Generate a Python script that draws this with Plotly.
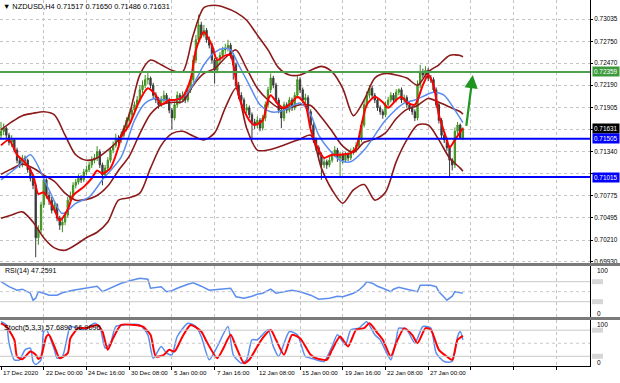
import plotly.graph_objects as go

# ---------------- data ----------------
bar_open = [0.7155,0.7160,0.7164,0.7155,0.7146,0.7149,0.7136,0.7123,0.7117,0.7126,
0.7123,0.7111,0.7100,0.7091,0.7024,0.7034,0.7066,0.7098,0.7078,0.7072,
0.7059,0.7066,0.7049,0.7040,0.7044,0.7053,0.7072,0.7078,0.7091,0.7095,
0.7100,0.7098,0.7108,0.7111,0.7117,0.7123,0.7126,0.7134,0.7117,0.7104,
0.7113,0.7123,0.7136,0.7142,0.7151,0.7149,0.7155,0.7164,0.7174,0.7181,
0.7187,0.7194,0.7200,0.7213,0.7219,0.7226,0.7228,0.7219,0.7206,0.7200,
0.7194,0.7200,0.7206,0.7200,0.7187,0.7177,0.7194,0.7206,0.7200,0.7206,
0.7200,0.7213,0.7226,0.7251,0.7277,0.7296,0.7283,0.7289,0.7277,0.7270,
0.7251,0.7238,0.7251,0.7257,0.7264,0.7266,0.7270,0.7257,0.7245,0.7219,
0.7206,0.7200,0.7187,0.7190,0.7181,0.7172,0.7168,0.7174,0.7164,0.7177,
0.7194,0.7213,0.7228,0.7219,0.7200,0.7187,0.7177,0.7194,0.7187,0.7200,
0.7190,0.7206,0.7226,0.7213,0.7200,0.7203,0.7185,0.7168,0.7149,0.7139,
0.7130,0.7117,0.7121,0.7117,0.7123,0.7130,0.7136,0.7126,0.7130,0.7123,
0.7130,0.7126,0.7134,0.7136,0.7142,0.7149,0.7168,0.7194,0.7206,0.7215,
0.7206,0.7200,0.7190,0.7185,0.7181,0.7194,0.7200,0.7206,0.7200,0.7210,
0.7213,0.7200,0.7203,0.7194,0.7190,0.7185,0.7177,0.7219,0.7236,0.7232,
0.7238,0.7228,0.7226,0.7213,0.7194,0.7174,0.7155,0.7149,0.7139,0.7123,
0.7117,0.7160,0.7168,0.71517]
bar_high = [0.7172,0.7170,0.7166,0.7158,0.7155,0.7151,0.7139,0.7127,0.7130,0.7129,
0.7125,0.7114,0.7103,0.7094,0.7040,0.7070,0.7104,0.7100,0.7083,0.7076,
0.7071,0.7068,0.7052,0.7048,0.7057,0.7076,0.7083,0.7095,0.7099,0.7105,
0.7104,0.7112,0.7116,0.7121,0.7128,0.7131,0.7141,0.7137,0.7120,0.7117,
0.7127,0.7140,0.7147,0.7157,0.7155,0.7160,0.7168,0.7178,0.7185,0.7191,
0.7198,0.7205,0.7219,0.7225,0.7232,0.7236,0.7230,0.7222,0.7210,0.7204,
0.7205,0.7212,0.7209,0.7203,0.7190,0.7198,0.7211,0.7209,0.7211,0.7209,
0.7217,0.7230,0.7257,0.7283,0.7309,0.7300,0.7296,0.7292,0.7281,0.7273,
0.7254,0.7255,0.7261,0.7268,0.7272,0.7277,0.7273,0.7260,0.7248,0.7223,
0.7210,0.7203,0.7195,0.7193,0.7184,0.7176,0.7179,0.7177,0.7181,0.7198,
0.7217,0.7234,0.7231,0.7222,0.7203,0.7190,0.7198,0.7197,0.7204,0.7203,
0.7210,0.7232,0.7229,0.7216,0.7208,0.7206,0.7188,0.7171,0.7152,0.7142,
0.7133,0.7126,0.7124,0.7128,0.7134,0.7141,0.7139,0.7134,0.7133,0.7134,
0.7133,0.7138,0.7140,0.7146,0.7153,0.7173,0.7199,0.7211,0.7219,0.7218,
0.7209,0.7203,0.7193,0.7188,0.7198,0.7204,0.7210,0.7209,0.7214,0.7215,
0.7216,0.7207,0.7206,0.7197,0.7193,0.7188,0.7225,0.7245,0.7240,0.7243,
0.7241,0.7232,0.7229,0.7216,0.7197,0.7177,0.7158,0.7152,0.7142,0.7126,
0.7165,0.7172,0.7170,0.71650]
bar_low = [0.7151,0.7155,0.7150,0.7142,0.7140,0.7133,0.7119,0.7113,0.7114,0.7119,
0.7107,0.7096,0.7086,0.6999,0.7015,0.7030,0.7062,0.7074,0.7066,0.7055,
0.7056,0.7045,0.7034,0.7031,0.7040,0.7050,0.7068,0.7075,0.7087,0.7092,
0.7094,0.7095,0.7104,0.7108,0.7113,0.7119,0.7122,0.7113,0.7091,0.7100,
0.7110,0.7120,0.7132,0.7139,0.7140,0.7145,0.7152,0.7160,0.7170,0.7177,
0.7183,0.7190,0.7197,0.7209,0.7215,0.7220,0.7215,0.7202,0.7196,0.7189,
0.7191,0.7197,0.7196,0.7183,0.7162,0.7174,0.7190,0.7195,0.7197,0.7196,
0.7197,0.7209,0.7222,0.7247,0.7273,0.7279,0.7280,0.7273,0.7266,0.7247,
0.7221,0.7234,0.7247,0.7253,0.7259,0.7262,0.7253,0.7226,0.7215,0.7201,
0.7195,0.7183,0.7183,0.7177,0.7149,0.7163,0.7164,0.7160,0.7161,0.7173,
0.7190,0.7209,0.7215,0.7196,0.7183,0.7164,0.7173,0.7183,0.7184,0.7186,
0.7187,0.7202,0.7209,0.7196,0.7195,0.7181,0.7164,0.7145,0.7135,0.7126,
0.7098,0.7113,0.7112,0.7114,0.7120,0.7127,0.7121,0.7103,0.7119,0.7120,
0.7122,0.7123,0.7130,0.7133,0.7139,0.7146,0.7165,0.7190,0.7202,0.7202,
0.7196,0.7186,0.7181,0.7176,0.7178,0.7190,0.7197,0.7196,0.7197,0.7206,
0.7196,0.7197,0.7190,0.7186,0.7181,0.7173,0.7174,0.7215,0.7228,0.7229,
0.7224,0.7222,0.7209,0.7190,0.7170,0.7151,0.7145,0.7135,0.7102,0.7110,
0.7113,0.7156,0.7150,0.71486]
bar_close = [0.7160,0.7164,0.7155,0.7146,0.7149,0.7136,0.7123,0.7117,0.7126,0.7123,
0.7111,0.7100,0.7091,0.7024,0.7034,0.7066,0.7098,0.7078,0.7072,0.7059,
0.7066,0.7049,0.7040,0.7044,0.7053,0.7072,0.7078,0.7091,0.7095,0.7100,
0.7098,0.7108,0.7111,0.7117,0.7123,0.7126,0.7134,0.7117,0.7104,0.7113,
0.7123,0.7136,0.7142,0.7151,0.7149,0.7155,0.7164,0.7174,0.7181,0.7187,
0.7194,0.7200,0.7213,0.7219,0.7226,0.7228,0.7219,0.7206,0.7200,0.7194,
0.7200,0.7206,0.7200,0.7187,0.7177,0.7194,0.7206,0.7200,0.7206,0.7200,
0.7213,0.7226,0.7251,0.7277,0.7296,0.7283,0.7289,0.7277,0.7270,0.7251,
0.7238,0.7251,0.7257,0.7264,0.7266,0.7270,0.7257,0.7245,0.7219,0.7206,
0.7200,0.7187,0.7190,0.7181,0.7172,0.7168,0.7174,0.7164,0.7177,0.7194,
0.7213,0.7228,0.7219,0.7200,0.7187,0.7177,0.7194,0.7187,0.7200,0.7190,
0.7206,0.7226,0.7213,0.7200,0.7203,0.7185,0.7168,0.7149,0.7139,0.7130,
0.7117,0.7121,0.7117,0.7123,0.7130,0.7136,0.7126,0.7130,0.7123,0.7130,
0.7126,0.7134,0.7136,0.7142,0.7149,0.7168,0.7194,0.7206,0.7215,0.7206,
0.7200,0.7190,0.7185,0.7181,0.7194,0.7200,0.7206,0.7200,0.7210,0.7213,
0.7200,0.7203,0.7194,0.7190,0.7185,0.7177,0.7219,0.7236,0.7232,0.7238,
0.7228,0.7226,0.7213,0.7194,0.7174,0.7155,0.7149,0.7139,0.7123,0.7117,
0.7160,0.7168,0.71517,0.71631]

# Bollinger bands (dark red), sampled every 4 bars
band_bars = [0,4,8,12,16,20,24,28,32,36,40,44,48,52,56,60,64,68,72,76,80,84,88,
             92,96,100,104,108,112,116,120,124,128,132,136,140,144,148,152,156,160,164,168,172,173]
bb_upper = [0.7162,0.7172,0.7180,0.7183,0.7185,0.7181,0.7155,0.7130,0.7123,0.7126,0.7136,0.7149,
            0.7181,0.7232,0.7251,0.7245,0.7238,0.7236,0.7283,0.7318,0.7321,0.7318,0.7312,0.7302,
            0.7283,0.7264,0.7241,0.7232,0.7232,0.7238,0.7243,0.7236,0.7215,0.7180,0.7200,0.7228,
            0.7234,0.7232,0.7228,0.7219,0.7236,0.7245,0.7257,0.7257,0.7255]
bb_middle = [0.7105,0.7112,0.7118,0.7113,0.7104,0.7096,0.7081,0.7072,0.7073,0.7078,0.7090,0.7110,
             0.7128,0.7157,0.7182,0.7194,0.7197,0.7198,0.7219,0.7234,0.7240,0.7254,0.7264,0.7240,
             0.7215,0.7200,0.7190,0.7190,0.7194,0.7193,0.7178,0.7160,0.7141,0.7133,0.7146,0.7150,
             0.7158,0.7176,0.7188,0.7193,0.7202,0.7197,0.7191,0.7185,0.7182]
bb_lower = [0.7049,0.7053,0.7057,0.7044,0.7024,0.7011,0.7008,0.7015,0.7024,0.7031,0.7044,0.7072,
            0.7075,0.7081,0.7113,0.7142,0.7157,0.7160,0.7154,0.7149,0.7158,0.7190,0.7215,0.7164,
            0.7136,0.7136,0.7140,0.7145,0.7150,0.7155,0.7113,0.7085,0.7068,0.7085,0.7092,0.7072,
            0.7082,0.7121,0.7149,0.7168,0.7168,0.7149,0.7126,0.7113,0.7109]

# fast moving average (red)
fast_bars = [0,3,6,9,12,14,16,18,20,22,25,27,31,34,36,38,41,44,45,48,52,55,58,60,63,65,68,71,73,76,
             79,81,84,86,88,89,91,93,95,98,100,101,104,106,109,111,114,116,119,121,124,127,131,133,
             135,137,140,143,145,148,150,152,155,158,160,162,164,167,168,170,173]
fast_ma = [0.7142,0.7149,0.7130,0.7120,0.7104,0.7080,0.7082,0.7072,0.7060,0.7046,0.7060,0.7078,
           0.7089,0.7100,0.7110,0.7106,0.7113,0.7140,0.7153,0.7168,0.7200,0.7215,0.7206,0.7194,
           0.7200,0.7200,0.7204,0.7226,0.7264,0.7287,0.7270,0.7251,0.7257,0.7257,0.7226,0.7206,
           0.7187,0.7174,0.7168,0.7174,0.7200,0.7206,0.7194,0.7190,0.7197,0.7204,0.7194,0.7162,
           0.7136,0.7126,0.7130,0.7130,0.7132,0.7139,0.7168,0.7194,0.7204,0.7197,0.7190,0.7200,
           0.7204,0.7197,0.7194,0.7219,0.7232,0.7219,0.7181,0.7149,0.7139,0.7149,0.7164]

# slow moving average (blue)
slow_bars = [0,7,11,18,23,28,33,38,45,50,54,58,61,65,69,73,76,80,84,86,89,93,97,101,104,108,112,
             116,119,123,127,131,136,144,151,155,159,162,166,170,173]
slow_ma = [0.7098,0.7117,0.7130,0.7085,0.7055,0.7068,0.7076,0.7098,0.7127,0.7174,0.7196,0.7202,
           0.7200,0.7200,0.7206,0.7226,0.7245,0.7261,0.7266,0.7264,0.7245,0.7219,0.7194,0.7185,
           0.7185,0.7190,0.7196,0.7181,0.7155,0.7136,0.7123,0.7121,0.7136,0.7174,0.7196,0.7200,
           0.7206,0.7210,0.7206,0.7187,0.7171]

# RSI(14)
rsi_bars = [0,1,3,6,8,11,12,13,14,16,18,21,23,27,31,36,38,41,45,49,52,55,56,60,62,64,66,70,72,75,
            78,82,86,88,91,94,96,98,101,103,107,109,112,116,119,123,126,128,132,134,136,137,139,
            141,143,146,147,149,152,154,156,157,161,163,164,166,167,169,170,172,173]
rsi_vals = [70,67,60,53,55,47,33,37,50,47,43,43,48,53,57,61,50,57,67,73,77,75,57,60,50,52,57,65,
            68,61,53,55,57,40,37,41,45,47,55,47,50,53,50,43,35,37,41,40,47,53,63,70,67,61,57,50,
            55,59,55,52,50,63,63,60,50,39,33,41,50,48,47.2591]

# Stochastic(5,3,3)
stoch_main_bars = [0,2,3,5,7,9,11,12,13,15,16,17,20,21,23,25,26,31,35,37,39,41,43,46,52,55,57,60,
                   62,64,66,70,73,75,78,81,85,87,90,92,94,96,100,102,104,108,111,114,116,118,121,
                   124,126,129,131,134,137,140,142,146,148,149,152,155,158,161,163,166,169,171,172,173]
stoch_main = [99.6,92,50.2,11.9,11.9,34.9,38.7,8,1,11.9,77,80.9,34.9,15.7,19.5,69.3,88.5,80.9,95.8,
              88.5,38.7,50.2,88.5,92,92,69.3,15.7,42.5,27.2,23.4,65.5,95.8,88.5,65.5,11.9,42.5,88.5,
              23.4,4.2,11.9,57.9,57.9,80.9,42.5,19.5,77,69.3,19.5,15.7,11.9,8,42.5,69.3,46.4,80.9,
              84.7,99.6,69.3,57.9,11.9,57.9,84.7,80.9,50.2,88.5,84.7,27.2,8,8,65.5,77,57.689]
stoch_sig_bars = [0,2,5,6,8,11,13,14,15,17,18,20,22,25,26,29,32,36,38,40,42,45,50,53,56,58,61,63,
                  65,68,71,75,77,81,83,86,88,91,93,96,98,101,103,106,109,112,116,118,122,124,127,
                  130,133,136,138,141,143,146,148,151,154,156,159,161,164,167,169,171,173]
stoch_sig = [95.8,88.5,57.9,19.5,13.4,31,23.4,14,19.5,65.5,69.3,42.5,15.7,27.2,61.7,84.7,84.7,92,
             77,34.9,61.7,92,92,88.5,69.3,19.5,23.4,34.9,31,65.5,92,77,54,15.7,34.9,69.3,42.5,4.2,
             11.9,42.5,61.7,80.9,57.9,23.4,69.3,61.7,23.4,15.7,11.9,34.9,65.5,42.5,80.9,84.7,95.8,
             73.2,57.9,19.5,50.2,84.7,69.3,50.2,84.7,80.9,34.9,19.5,11.9,57.9,66.9096]

time_tick_bars = [0,16,32,48,64,80,96,112,128,144,160]
time_tick_labels = ["17 Dec 2020","22 Dec 00:00","24 Dec 16:00","30 Dec 08:00","5 Jan 00:00",
                    "7 Jan 16:00","12 Jan 08:00","15 Jan 00:00","19 Jan 16:00","22 Jan 08:00",
                    "27 Jan 00:00"]
grid_bars = [0,16,32,48,64,80,96,112,128,144,160,176,192,208]
price_ticks = [0.73035,0.72750,0.72470,0.72190,0.71905,0.71620,0.71340,0.71060,
               0.70775,0.70495,0.70210,0.69930]
price_tick_text = ["0.73035","0.72750","0.72470","0.72190","0.71905","","0.71340","",
                   "0.70775","0.70495","0.70210","0.69930"]

resistance_level = 0.72359
support_levels = [0.71505, 0.71015]
last_price = 0.71631
arrow_from = (174.2, 0.7165)
arrow_to = (176.7, 0.7232)

# ---------------- figure ----------------
W, H = 620, 383
XR = 590 / W
def py(p):  # pixel row -> paper y
    return 1 - p / H

FONT = "Liberation Sans, Arial, sans-serif"
GRID = "#c4c4c4"
DARKRED = "#8b1a1a"
BLUE = "#5b8def"

fig = go.Figure()
fig.add_trace(go.Candlestick(
    x=list(range(len(bar_close))), open=bar_open, high=bar_high, low=bar_low, close=bar_close,
    increasing=dict(line=dict(color="#3f8f1f", width=1), fillcolor="#5aa832"),
    decreasing=dict(line=dict(color="#3a3a3a", width=1), fillcolor="#3a3a3a"),
    whiskerwidth=0, showlegend=False, hoverinfo="skip", xaxis="x", yaxis="y"))

for ys in (bb_upper, bb_middle, bb_lower):
    fig.add_trace(go.Scatter(x=band_bars, y=ys, mode="lines", xaxis="x", yaxis="y",
                             line=dict(color=DARKRED, width=1.6, shape="spline", smoothing=0.8),
                             showlegend=False, hoverinfo="skip"))
fig.add_trace(go.Scatter(x=slow_bars, y=slow_ma, mode="lines", xaxis="x", yaxis="y",
                         line=dict(color=BLUE, width=1.5, shape="spline", smoothing=0.8),
                         showlegend=False, hoverinfo="skip"))
fig.add_trace(go.Scatter(x=fast_bars, y=fast_ma, mode="lines", xaxis="x", yaxis="y",
                         line=dict(color="#ff0000", width=2, shape="spline", smoothing=0.7),
                         showlegend=False, hoverinfo="skip"))

fig.add_trace(go.Scatter(x=rsi_bars, y=rsi_vals, mode="lines", xaxis="x", yaxis="y2",
                         line=dict(color=BLUE, width=1.5), showlegend=False, hoverinfo="skip"))
fig.add_trace(go.Scatter(x=stoch_main_bars, y=stoch_main, mode="lines", xaxis="x", yaxis="y3",
                         line=dict(color=BLUE, width=1.5, shape="spline", smoothing=0.6),
                         showlegend=False, hoverinfo="skip"))
fig.add_trace(go.Scatter(x=stoch_sig_bars, y=stoch_sig, mode="lines", xaxis="x", yaxis="y3",
                         line=dict(color="#ff0000", width=2, shape="spline", smoothing=0.6),
                         showlegend=False, hoverinfo="skip"))

shapes = []
# panel separators
for top, bot in ((263, 266), (317, 320)):
    shapes.append(dict(type="rect", xref="paper", yref="paper", x0=0, x1=1, y0=py(bot), y1=py(top),
                       fillcolor="#7a7a7a", line=dict(width=0), layer="above"))
# indicator levels
for lv in (70, 50, 30):
    shapes.append(dict(type="line", xref="x domain", yref="y2", x0=0, x1=1, y0=lv, y1=lv,
                       line=dict(color="#c8c8c8", width=1, dash="solid" if lv != 50 else "dot")))
for lv in (80, 50, 20):
    shapes.append(dict(type="line", xref="x domain", yref="y3", x0=0, x1=1, y0=lv, y1=lv,
                       line=dict(color="#c8c8c8", width=1, dash="solid" if lv != 50 else "dot")))
# support / resistance
shapes.append(dict(type="line", xref="x domain", yref="y", x0=0, x1=1,
                   y0=resistance_level, y1=resistance_level, line=dict(color="#4ea04e", width=2)))
for lv in support_levels:
    shapes.append(dict(type="line", xref="x domain", yref="y", x0=0, x1=1, y0=lv, y1=lv,
                       line=dict(color="#0000ff", width=2)))
# small grey level boxes at right of the indicator windows
for yr, lv in (("y2", 70), ("y2", 30), ("y3", 80), ("y3", 20)):
    shapes.append(dict(type="line", xref="paper", yref=yr, x0=592 / W, x1=603 / W, y0=lv, y1=lv,
                       line=dict(color="#d6d6d6", width=5)))

ann = []
ann.append(dict(xref="paper", yref="paper", x=1 / W, y=py(7), xanchor="left", yanchor="middle",
                text="\u25bc NZDUSD,H4 0.71517 0.71650 0.71486 0.71631", showarrow=False,
                font=dict(size=7.4, color="#000000", family=FONT)))
ann.append(dict(xref="paper", yref="paper", x=3 / W, y=py(271), xanchor="left", yanchor="middle",
                text="RSI(14) 47.2591", showarrow=False, font=dict(size=7, color="#000000", family=FONT)))
ann.append(dict(xref="paper", yref="paper", x=2 / W, y=py(327), xanchor="left", yanchor="middle",
                text="Stoch(5,3,3) 57.6890 66.9096", showarrow=False,
                font=dict(size=7.3, color="#000000", family=FONT)))
for val, bg in ((resistance_level, "#3c9a3c"), (last_price, "#000000"),
                (support_levels[0], "#0000ff"), (support_levels[1], "#0000ff")):
    ann.append(dict(xref="paper", yref="y", x=592 / W, y=val, xanchor="left", yanchor="middle",
                    text=f"{val:.5f}", showarrow=False, bgcolor=bg, borderpad=1,
                    font=dict(size=6.4, color="#ffffff", family=FONT)))
for v, py_ in (("100", 270), ("0", 313), ("100", 324), ("0", 362)):
    ann.append(dict(xref="paper", yref="paper", x=595 / W, y=py(py_), xanchor="left", yanchor="middle",
                    text=v, showarrow=False, font=dict(size=6.5, color="#000000", family=FONT)))
for b, lab in zip(time_tick_bars, time_tick_labels):
    ann.append(dict(xref="x", yref="paper", x=b, y=py(372), xanchor="left", yanchor="middle",
                    text=lab, showarrow=False, font=dict(size=6.2, color="#000000", family=FONT)))
ann.append(dict(xref="x", yref="y", x=arrow_to[0], y=arrow_to[1], axref="x", ayref="y",
                ax=arrow_from[0], ay=arrow_from[1], text="", showarrow=True, arrowhead=2,
                arrowsize=1.2, arrowwidth=2.2, arrowcolor="#1e961e"))

fig.update_layout(
    width=W, height=H, margin=dict(l=0, r=0, t=0, b=0),
    paper_bgcolor="#ffffff", plot_bgcolor="#ffffff", showlegend=False,
    font=dict(family=FONT, size=7, color="#000000"),
    xaxis=dict(domain=[0, XR], range=[-0.375, 220.6], anchor="y3", tickvals=grid_bars,
               showticklabels=False, ticks="outside", ticklen=3, tickcolor="#000000",
               showgrid=True, gridcolor=GRID, griddash="dot", gridwidth=1, zeroline=False,
               showline=True, linecolor="#000000", linewidth=1, rangeslider=dict(visible=False),
               automargin=False),
    yaxis=dict(domain=[py(263), 1], range=[0.69917, 0.73278], side="right", anchor="x",
               tickvals=price_ticks, ticktext=price_tick_text,
               tickfont=dict(size=6.4, family=FONT), ticks="outside", ticklen=2, tickcolor="#000000",
               showgrid=True, gridcolor=GRID, griddash="dot", zeroline=False,
               showline=True, linecolor="#000000", automargin=False),
    yaxis2=dict(domain=[py(317), py(266)], range=[-0.6, 101.4], side="right", anchor="x",
                showticklabels=False, showgrid=False, zeroline=False, showline=True,
                linecolor="#000000", automargin=False),
    yaxis3=dict(domain=[py(366), py(320)], range=[-2.3, 103.4], side="right", anchor="x",
                showticklabels=False, showgrid=False, zeroline=False, showline=True,
                linecolor="#000000", automargin=False),
    shapes=shapes, annotations=ann,
)

fig.write_html("out.html", config={"displayModeBar": False, "staticPlot": True},
               post_script="document.body.style.margin='0px';document.body.style.overflow='hidden';")
